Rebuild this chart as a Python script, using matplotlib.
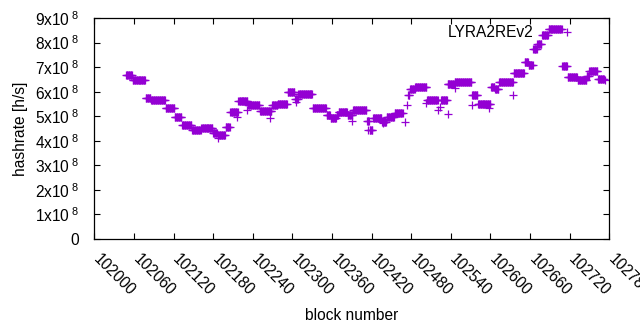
import numpy as np
import matplotlib
matplotlib.use("Agg")
import matplotlib.pyplot as plt
import matplotlib.transforms as mtransforms
from matplotlib.ticker import FuncFormatter, MultipleLocator

plt.rcParams['font.family'] = ['Liberation Sans', 'DejaVu Sans']
plt.rcParams['mathtext.fontset'] = 'custom'
plt.rcParams['mathtext.rm'] = 'Liberation Sans'
plt.rcParams['mathtext.it'] = 'Liberation Sans:italic'

# runs of blocks with the same hashrate (block offset from 102000, value in 1e8 h/s)
run_start = [48, 58, 78, 86, 108, 122, 133, 148, 162, 180, 187, 199, 206, 218, 233,
             251, 269, 278, 293, 304, 309, 331, 352, 358, 367, 370, 384, 392, 413, 417,
             422, 436, 443, 455, 475, 478, 486, 504, 525, 535, 546, 572, 581, 586, 601,
             607, 613, 635, 652, 658, 665, 671, 678, 688, 709, 717, 732, 746, 750, 763]
run_end = [57, 77, 85, 107, 121, 132, 147, 161, 179, 186, 198, 205, 217, 232, 250,
           268, 277, 292, 303, 308, 330, 351, 357, 366, 369, 383, 391, 412, 416, 421,
           435, 442, 454, 467, 477, 485, 503, 520, 534, 545, 571, 580, 585, 600, 606,
           612, 634, 651, 657, 664, 670, 677, 687, 708, 716, 731, 745, 749, 762, 772]
run_val = [6.68, 6.47, 5.74, 5.66, 5.33, 4.97, 4.64, 4.44, 4.52, 4.32, 4.23, 4.55, 5.17, 5.62, 5.46,
           5.21, 5.46, 5.50, 5.98, 5.70, 5.90, 5.33, 5.05, 4.93, 5.05, 5.17, 5.05, 5.25, 4.80, 4.45,
           4.93, 4.78, 4.97, 5.13, 5.85, 6.10, 6.19, 5.66, 5.66, 6.31, 6.39, 5.86, 5.50, 5.50, 6.20,
           6.10, 6.39, 6.76, 7.20, 7.10, 7.75, 7.95, 8.30, 8.55, 7.04, 6.60, 6.47, 6.65, 6.84, 6.50]

# single scattered blocks
odd_block = [187, 216, 231, 266, 305, 390, 414, 437, 470, 473, 503, 520, 523, 535, 546, 572, 598, 634, 774]
odd_val = [4.11, 4.97, 5.25, 4.93, 5.58, 4.80, 4.44, 4.72, 4.76, 5.46, 5.54, 5.25, 5.37, 5.09, 6.15, 5.46, 5.33, 5.86, 6.47]

base = 102000
blocks = []
rates = []
for s, e, v in zip(run_start, run_end, run_val):
    for b in range(s, e + 1):
        blocks.append(base + b)
        rates.append(v * 1e8)
for b, v in zip(odd_block, odd_val):
    blocks.append(base + b)
    rates.append(v * 1e8)

fs = 11.2
fig = plt.figure(figsize=(6.4, 3.3), dpi=100)
ax = fig.add_axes([0.1473, 0.2758, 0.8047, 0.6697])

ax.plot(blocks, rates, linestyle='none', marker='+', markersize=5.2,
        markeredgewidth=0.9, color='#9400d3', label='LYRA2REv2')

ax.set_xlim(102000, 102780)
ax.set_ylim(0, 9e8)
ax.xaxis.set_major_locator(MultipleLocator(60))
ax.yaxis.set_major_locator(MultipleLocator(1e8))


def yfmt(v, pos):
    n = int(round(v / 1e8))
    if n == 0:
        return '0'
    return r'%dx10$^{\ 8}$' % n


ax.yaxis.set_major_formatter(FuncFormatter(yfmt))
ax.tick_params(direction='in', length=4, width=0.8, top=True, right=True,
               labelsize=fs, colors='black')
ax.tick_params(axis='y', pad=11)
ax.tick_params(axis='x', pad=9)
shift = mtransforms.ScaledTranslation(0.07, 0, fig.dpi_scale_trans)
for lab in ax.get_xticklabels():
    lab.set_rotation(-45)
    lab.set_ha('left')
    lab.set_va('top')
    lab.set_rotation_mode('anchor')
    lab.set_transform(lab.get_transform() + shift)

for sp in ax.spines.values():
    sp.set_linewidth(0.9)

ax.set_xlabel('block number', fontsize=fs, labelpad=7)
ax.set_ylabel('hashrate [h/s]', fontsize=fs, labelpad=5)

ax.legend(loc='upper right', bbox_to_anchor=(0.970, 0.966), frameon=False,
          markerfirst=False, numpoints=1, handlelength=3.4, handletextpad=0.5,
          borderaxespad=0, borderpad=0, fontsize=fs)

fig.savefig('out.png', dpi=100)
